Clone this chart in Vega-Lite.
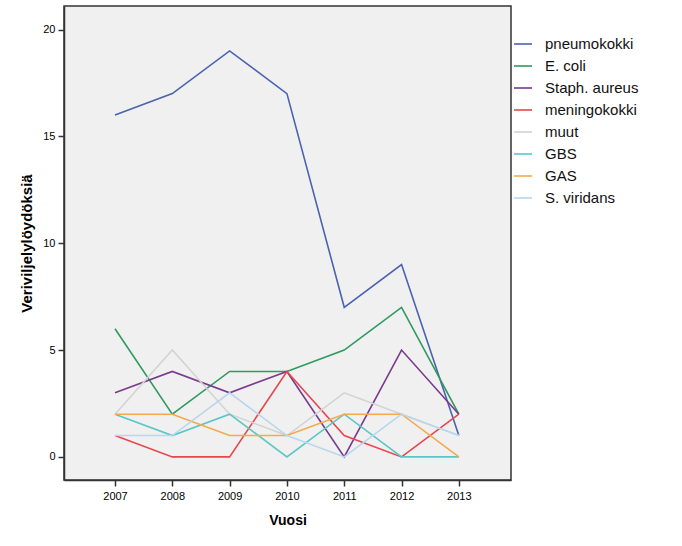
{
  "$schema": "https://vega.github.io/schema/vega-lite/v6.json",
  "width": 447,
  "height": 474,
  "autosize": "none",
  "padding": {"left": 64, "top": 6, "right": 171, "bottom": 66},
  "background": "white",
  "config": {
    "view": {"fill": "#F0F0F0", "stroke": "#333333", "strokeWidth": 1.5},
    "font": "Liberation Sans"
  },
  "data": {
    "values": [
      {"vuosi": 2007, "laji": "pneumokokki", "n": 16},
      {"vuosi": 2008, "laji": "pneumokokki", "n": 17},
      {"vuosi": 2009, "laji": "pneumokokki", "n": 19},
      {"vuosi": 2010, "laji": "pneumokokki", "n": 17},
      {"vuosi": 2011, "laji": "pneumokokki", "n": 7},
      {"vuosi": 2012, "laji": "pneumokokki", "n": 9},
      {"vuosi": 2013, "laji": "pneumokokki", "n": 1},
      {"vuosi": 2007, "laji": "E. coli", "n": 6},
      {"vuosi": 2008, "laji": "E. coli", "n": 2},
      {"vuosi": 2009, "laji": "E. coli", "n": 4},
      {"vuosi": 2010, "laji": "E. coli", "n": 4},
      {"vuosi": 2011, "laji": "E. coli", "n": 5},
      {"vuosi": 2012, "laji": "E. coli", "n": 7},
      {"vuosi": 2013, "laji": "E. coli", "n": 2},
      {"vuosi": 2007, "laji": "Staph. aureus", "n": 3},
      {"vuosi": 2008, "laji": "Staph. aureus", "n": 4},
      {"vuosi": 2009, "laji": "Staph. aureus", "n": 3},
      {"vuosi": 2010, "laji": "Staph. aureus", "n": 4},
      {"vuosi": 2011, "laji": "Staph. aureus", "n": 0},
      {"vuosi": 2012, "laji": "Staph. aureus", "n": 5},
      {"vuosi": 2013, "laji": "Staph. aureus", "n": 2},
      {"vuosi": 2007, "laji": "meningokokki", "n": 1},
      {"vuosi": 2008, "laji": "meningokokki", "n": 0},
      {"vuosi": 2009, "laji": "meningokokki", "n": 0},
      {"vuosi": 2010, "laji": "meningokokki", "n": 4},
      {"vuosi": 2011, "laji": "meningokokki", "n": 1},
      {"vuosi": 2012, "laji": "meningokokki", "n": 0},
      {"vuosi": 2013, "laji": "meningokokki", "n": 2},
      {"vuosi": 2007, "laji": "muut", "n": 2},
      {"vuosi": 2008, "laji": "muut", "n": 5},
      {"vuosi": 2009, "laji": "muut", "n": 2},
      {"vuosi": 2010, "laji": "muut", "n": 1},
      {"vuosi": 2011, "laji": "muut", "n": 3},
      {"vuosi": 2012, "laji": "muut", "n": 2},
      {"vuosi": 2013, "laji": "muut", "n": 1},
      {"vuosi": 2007, "laji": "GBS", "n": 2},
      {"vuosi": 2008, "laji": "GBS", "n": 1},
      {"vuosi": 2009, "laji": "GBS", "n": 2},
      {"vuosi": 2010, "laji": "GBS", "n": 0},
      {"vuosi": 2011, "laji": "GBS", "n": 2},
      {"vuosi": 2012, "laji": "GBS", "n": 0},
      {"vuosi": 2013, "laji": "GBS", "n": 0},
      {"vuosi": 2007, "laji": "GAS", "n": 2},
      {"vuosi": 2008, "laji": "GAS", "n": 2},
      {"vuosi": 2009, "laji": "GAS", "n": 1},
      {"vuosi": 2010, "laji": "GAS", "n": 1},
      {"vuosi": 2011, "laji": "GAS", "n": 2},
      {"vuosi": 2012, "laji": "GAS", "n": 2},
      {"vuosi": 2013, "laji": "GAS", "n": 0},
      {"vuosi": 2007, "laji": "S. viridans", "n": 1},
      {"vuosi": 2008, "laji": "S. viridans", "n": 1},
      {"vuosi": 2009, "laji": "S. viridans", "n": 3},
      {"vuosi": 2010, "laji": "S. viridans", "n": 1},
      {"vuosi": 2011, "laji": "S. viridans", "n": 0},
      {"vuosi": 2012, "laji": "S. viridans", "n": 2},
      {"vuosi": 2013, "laji": "S. viridans", "n": 1}
    ]
  },
  "mark": {"type": "line", "strokeWidth": 1.6},
  "encoding": {
    "x": {
      "field": "vuosi",
      "type": "quantitative",
      "scale": {"domain": [2006.11, 2013.91], "nice": false, "zero": false},
      "axis": {
        "values": [2007, 2008, 2009, 2010, 2011, 2012, 2013],
        "format": "d",
        "grid": false,
        "title": "Vuosi",
        "titleFontSize": 14,
        "titleFontWeight": "bold",
        "titleColor": "#000000",
        "titlePadding": 12,
        "labelFontSize": 11,
        "labelColor": "#000000",
        "labelPadding": 4,
        "tickSize": 6,
        "tickColor": "#333333",
        "tickWidth": 1.5,
        "domainColor": "#333333",
        "domainWidth": 1.5
      }
    },
    "y": {
      "field": "n",
      "type": "quantitative",
      "scale": {"domain": [-1.08, 21.1], "nice": false, "zero": false},
      "axis": {
        "values": [0, 5, 10, 15, 20],
        "grid": false,
        "title": "Veriviljelylöydöksiä",
        "titleFontSize": 15,
        "titleFontWeight": "bold",
        "titleColor": "#000000",
        "titlePadding": 8,
        "labelFontSize": 11,
        "labelColor": "#000000",
        "labelPadding": 3,
        "tickSize": 6,
        "tickColor": "#333333",
        "tickWidth": 1.5,
        "domainColor": "#333333",
        "domainWidth": 1.5
      }
    },
    "color": {
      "field": "laji",
      "type": "nominal",
      "scale": {
        "domain": ["pneumokokki", "E. coli", "Staph. aureus", "meningokokki", "muut", "GBS", "GAS", "S. viridans"],
        "range": ["#4A63AE", "#2E9A5E", "#7A3A8E", "#E8464E", "#D3D3D3", "#5CC6C6", "#F5A94A", "#B8D6EE"]
      },
      "legend": {
        "orient": "none",
        "legendX": 449,
        "legendY": 28,
        "title": null,
        "symbolType": "stroke",
        "symbolSize": 324,
        "symbolStrokeWidth": 1.6,
        "labelFontSize": 15,
        "labelColor": "#111111",
        "labelOffset": 12,
        "rowPadding": 4,
        "labelLimit": 200
      }
    }
  }
}
